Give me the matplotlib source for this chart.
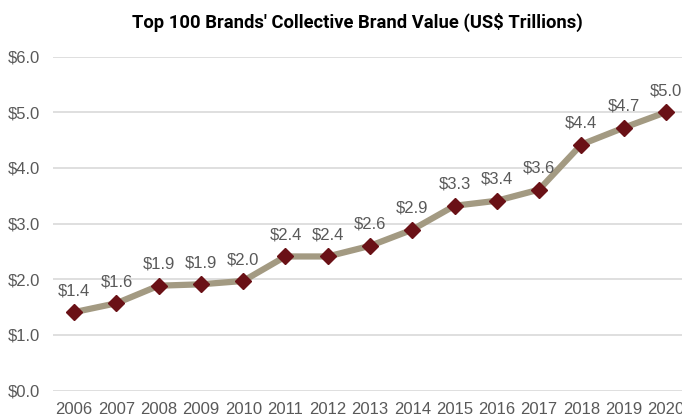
import matplotlib
matplotlib.use("Agg")
import matplotlib.pyplot as plt

years = ["2006", "2007", "2008", "2009", "2010", "2011", "2012", "2013",
         "2014", "2015", "2016", "2017", "2018", "2019", "2020"]
values = [1.41, 1.57, 1.885, 1.91, 1.97, 2.41, 2.41, 2.60,
          2.89, 3.32, 3.41, 3.61, 4.42, 4.72, 5.00]
labels = ["$1.4", "$1.6", "$1.9", "$1.9", "$2.0", "$2.4", "$2.4", "$2.6",
          "$2.9", "$3.3", "$3.4", "$3.6", "$4.4", "$4.7", "$5.0"]
yticks = [0, 1, 2, 3, 4, 5, 6]
ytick_labels = ["$0.0", "$1.0", "$2.0", "$3.0", "$4.0", "$5.0", "$6.0"]
title = "Top 100 Brands' Collective Brand Value (US$ Trillions)"

plt.rcParams['font.family'] = ['Liberation Sans', 'DejaVu Sans']

W, H = 682, 417
fig = plt.figure(figsize=(W / 100, H / 100), dpi=100)
left, right = 53 / W, 687 / W
bottom, top = 1 - 390.7 / H, 1 - 56.5 / H
ax = fig.add_axes([left, bottom, right - left, top - bottom])

x = list(range(len(years)))
ax.plot(x, values, color="#A39A82", linewidth=4.5, solid_joinstyle="round",
        marker="D", markersize=8, markerfacecolor="#6A1116",
        markeredgecolor="#6A1116", zorder=3)
for xi, v, lab in zip(x, values, labels):
    ax.annotate(lab, (xi, v), xytext=(0, 10), textcoords="offset points",
                ha="center", va="bottom", fontsize=12, color="#595959")

ax.set_xlim(-0.5, len(years) - 0.5)
ax.set_ylim(0, 6)
ax.set_yticks(yticks)
ax.set_yticklabels(ytick_labels)
ax.set_xticks(x)
ax.set_xticklabels(years)
ax.tick_params(axis="both", length=0, labelsize=12, labelcolor="#595959")
ax.tick_params(axis="x", pad=8)
ax.tick_params(axis="y", pad=9)
ax.grid(axis="y", color="#D9D9D9", linewidth=1.2)
ax.set_axisbelow(True)
for s in ax.spines.values():
    s.set_visible(False)

fig.text(357 / W, 1 - 22 / H, title, ha="center", va="center",
         fontsize=13.2, fontweight="bold",
         family=['Roboto', 'DejaVu Sans'], color="#000000")

fig.savefig("out.png", dpi=100)
